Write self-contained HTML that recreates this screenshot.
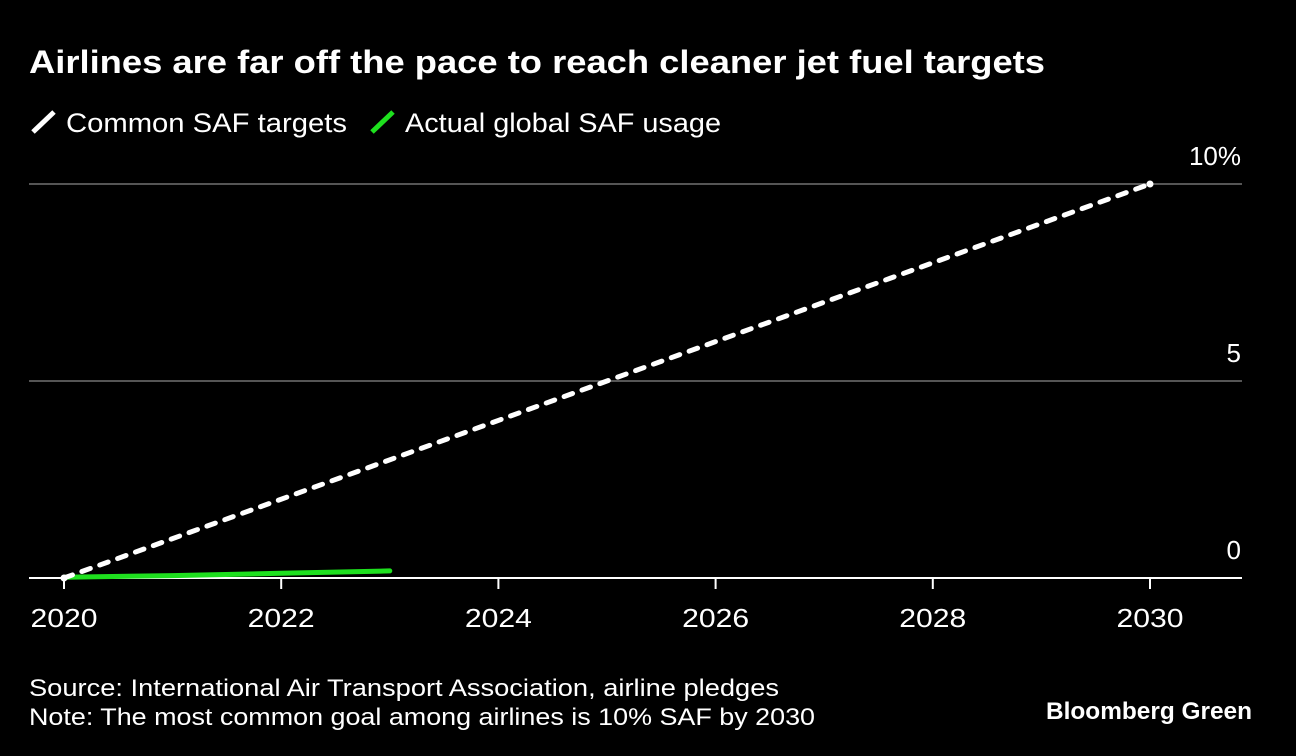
<!DOCTYPE html>
<html><head><meta charset="utf-8"><style>
body{margin:0;background:#000;width:1296px;height:756px;overflow:hidden;font-family:"Liberation Sans",sans-serif;color:#fff}
svg{position:absolute;left:0;top:0}
</style></head><body>
<svg width="1296" height="756">
<text x="29" y="73" font-size="32" font-weight="bold" fill="#fff" textLength="1016" lengthAdjust="spacingAndGlyphs">Airlines are far off the pace to reach cleaner jet fuel targets</text>
<g>
<line x1="33" y1="132" x2="54" y2="112" stroke="#fff" stroke-width="5"/>
<text x="66" y="132" font-size="27" fill="#fff" textLength="281" lengthAdjust="spacingAndGlyphs">Common SAF targets</text>
<line x1="372" y1="132" x2="393" y2="112" stroke="#1ee01e" stroke-width="5"/>
<text x="405" y="132" font-size="27" fill="#fff" textLength="316" lengthAdjust="spacingAndGlyphs">Actual global SAF usage</text>
</g>
<g id="grid"></g><g id="xaxis"></g><g id="series"></g>
<text x="29" y="696" font-size="24" fill="#fff" textLength="750" lengthAdjust="spacingAndGlyphs">Source: International Air Transport Association, airline pledges</text>
<text x="29" y="725" font-size="24" fill="#fff" textLength="786" lengthAdjust="spacingAndGlyphs">Note: The most common goal among airlines is 10% SAF by 2030</text>
<text x="1046" y="719" font-size="24" font-weight="bold" fill="#fff" textLength="206" lengthAdjust="spacingAndGlyphs">Bloomberg Green</text>
</svg>
<script>
const yTicks=[0,5,10];
const yTickLabels=["0","5","10%"];
const xTicks=[2020,2022,2024,2026,2028,2030];
const targetYears=[2020,2030];
const targetValues=[0,10];
const actualYears=[2020,2021,2022,2023];
const actualValues=[0.02,0.06,0.12,0.18];
const NS="http://www.w3.org/2000/svg";
const X=y=>64+(y-2020)*(1150-64)/10;
const Y=v=>578-v*(578-184)/10;
function mk(tag,attrs,parent){const e=document.createElementNS(NS,tag);for(const k in attrs)e.setAttribute(k,attrs[k]);document.getElementById(parent).appendChild(e);return e;}
yTicks.forEach((t,i)=>{
  const l=mk('line',{x1:29,x2:1242,y1:Y(t),y2:Y(t),stroke:t===0?'#fff':'#555','stroke-width':2},'grid');
  
  
  const tx=mk('text',{x:1241,y:Y(t)-19,'font-size':26,fill:'#fff','text-anchor':'end'},'grid');
  tx.textContent=yTickLabels[i];
  
  
});
xTicks.forEach(t=>{
  const l=mk('line',{x1:X(t),x2:X(t),y1:578,y2:589,stroke:'#fff','stroke-width':2},'xaxis');
  
  
  const tx=mk('text',{x:X(t),y:627,'font-size':26,fill:'#fff','text-anchor':'middle',textLength:67,lengthAdjust:'spacingAndGlyphs'},'xaxis');
  tx.textContent=t;
  
  
});
const ap=mk('polyline',{points:actualYears.map((y,i)=>X(y)+','+Y(actualValues[i])).join(' '),fill:'none',stroke:'#1ee01e','stroke-width':5,'stroke-linecap':'round'},'series');


const tp=mk('polyline',{points:targetYears.map((y,i)=>X(y)+','+Y(targetValues[i])).join(' '),fill:'none',stroke:'#fff','stroke-width':5,'stroke-dasharray':'9 10','stroke-linecap':'round'},'series');


targetYears.forEach((y,i)=>{
  const c=mk('circle',{cx:X(y),cy:Y(targetValues[i]),r:3.5,fill:'#fff'},'series');
  
  
});
</script>
</body></html>
